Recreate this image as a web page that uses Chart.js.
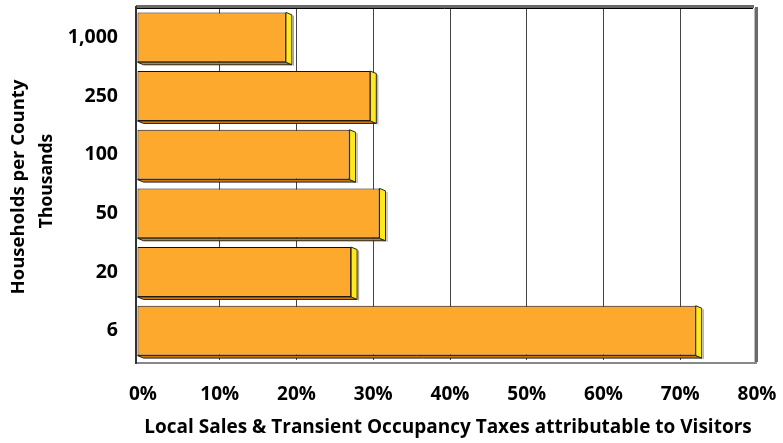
<!DOCTYPE html>
<html>
<head>
<meta charset="utf-8">
<script src="https://cdn.jsdelivr.net/npm/chart.js@4.4.0/dist/chart.umd.min.js"></script>
<style>
  html, body { margin: 0; padding: 0; background: #fff; }
  #wrap { width: 783px; height: 443px; position: relative; }
</style>
</head>
<body>
<div id="wrap"><canvas id="myChart" width="783" height="443"></canvas></div>
<script>
// households per county (thousands)
let categories = ['1,000', '250', '100', '50', '20', '6'];
let shares = [19.4, 30.4, 27.7, 31.6, 27.9, 72.8];
let xTicks = [0, 10, 20, 30, 40, 50, 60, 70, 80];

let xTitle = 'Local Sales & Transient Occupancy Taxes attributable to Visitors';
let yTitle = 'Households per County';
let ySubTitle = 'Thousands';

const FONT = '"Open Sans", Lato, sans-serif';
const DEPTH_X = 6, DEPTH_Y = 2.5;
const SHIFT = -6; // bars sit in front of the back wall

let ctx = document.getElementById('myChart').getContext('2d');

function noPad(scale) {
    scale.paddingTop = 0;
    scale.paddingBottom = 0;
    scale.paddingLeft = 0;
    scale.paddingRight = 0;
}

// fake 3d: walls, floor, bar sides
const threeD = {
    id: 'threeD',
    beforeDatasetsDraw(chart) {
        chart.ctx.save();
        chart.ctx.translate(SHIFT, 0);
    },
    afterDatasetsDraw(chart) {
        let c = chart.ctx;
        let meta = chart.getDatasetMeta(0);
        meta.data.forEach(el => {
            let top = el.y - el.height / 2;
            let bottom = el.y + el.height / 2;
            let left = el.base, right = el.x;
            // bottom face
            c.beginPath();
            c.moveTo(left, bottom);
            c.lineTo(right, bottom);
            c.lineTo(right + DEPTH_X, bottom + DEPTH_Y);
            c.lineTo(left + DEPTH_X, bottom + DEPTH_Y);
            c.closePath();
            c.fillStyle = '#dc7d00';
            c.fill();
            c.strokeStyle = '#222';
            c.lineWidth = 1;
            c.stroke();
            // right side face
            c.beginPath();
            c.moveTo(right, top);
            c.lineTo(right + DEPTH_X, top + DEPTH_Y);
            c.lineTo(right + DEPTH_X, bottom + DEPTH_Y);
            c.lineTo(right, bottom);
            c.closePath();
            c.fillStyle = '#ffe81e';
            c.fill();
            c.stroke();
            // shadow line
            c.beginPath();
            c.moveTo(right + DEPTH_X + 1.5, top + DEPTH_Y + 1);
            c.lineTo(right + DEPTH_X + 1.5, bottom + DEPTH_Y + 1);
            c.strokeStyle = '#999';
            c.stroke();
        });
        c.restore();
    },
    afterDraw(chart) {
        let c = chart.ctx;
        let a = chart.chartArea;
        c.save();
        // back wall top
        c.fillStyle = '#6a6a6a';
        c.fillRect(a.left - 7, a.top - 3, a.right - a.left + 4, 3);
        c.strokeStyle = '#000';
        c.lineWidth = 1;
        c.beginPath();
        c.moveTo(a.left - 7, a.top + 0.5);
        c.lineTo(a.right - 4, a.top + 0.5);
        c.stroke();
        // right wall
        c.fillStyle = '#6a6a6a';
        c.fillRect(a.right - 2, a.top - 1, 3, a.bottom - a.top + 3);
        c.fillStyle = '#bbb';
        c.fillRect(a.right - 3, a.top, 1, a.bottom - a.top + 2);
        // left wall
        c.fillStyle = '#333';
        c.fillRect(a.left - 8, a.top - 2, 2, a.bottom - a.top + 6);
        // floor
        c.strokeStyle = '#888';
        c.lineWidth = 2;
        c.beginPath();
        c.moveTo(a.left - 6, a.bottom + 3);
        c.lineTo(a.right, a.bottom + 3);
        c.stroke();
        // axis titles
        c.fillStyle = '#000';
        c.textAlign = 'center';
        c.textBaseline = 'middle';
        c.font = 'bold 19px ' + FONT;
        c.fillText(xTitle, 448, 428);
        c.translate(19, 187);
        c.rotate(-Math.PI / 2);
        c.font = 'bold 18.5px ' + FONT;
        c.fillText(yTitle, 0, 0);
        c.font = 'bold 17.5px ' + FONT;
        c.fillText(ySubTitle, 6, 28);
        c.restore();
    }
};

let myChart = new Chart(ctx, {
    type: 'bar',
    data: {
        labels: categories,
        datasets: [{
            data: shares,
            backgroundColor: '#fca92e',
            borderColor: '#111',
            borderWidth: 1,
            borderSkipped: false,
            barPercentage: 0.85,
            categoryPercentage: 1.0
        }]
    },
    options: {
        indexAxis: 'y',
        responsive: false,
        animation: false,
        layout: { padding: { top: 8, right: 26, left: 0, bottom: 0 } },
        plugins: {
            legend: { display: false },
            tooltip: { enabled: false }
        },
        scales: {
            x: {
                min: 0,
                max: 80,
                afterBuildTicks: scale => { scale.ticks = xTicks.map(v => ({ value: v })); },
                afterFit: scale => { scale.height = 83; noPad(scale); },
                grid: {
                    drawTicks: false,
                    color: c => (c.tick && (c.tick.value === 0 || c.tick.value === 80)) ? 'rgba(0,0,0,0)' : '#444',
                    lineWidth: 1
                },
                border: { display: false },
                ticks: {
                    padding: 23,
                    color: '#000',
                    maxRotation: 0,
                    font: { family: FONT, size: 19, weight: 'bold' },
                    callback: v => v + '%'
                }
            },
            y: {
                afterFit: scale => { scale.width = 143; noPad(scale); },
                grid: { display: false, drawTicks: false },
                border: { display: false },
                ticks: {
                    padding: 25,
                    color: '#000',
                    font: { family: FONT, size: 19.5, weight: 'bold' }
                }
            }
        }
    },
    plugins: [threeD]
});
</script>
</body>
</html>
